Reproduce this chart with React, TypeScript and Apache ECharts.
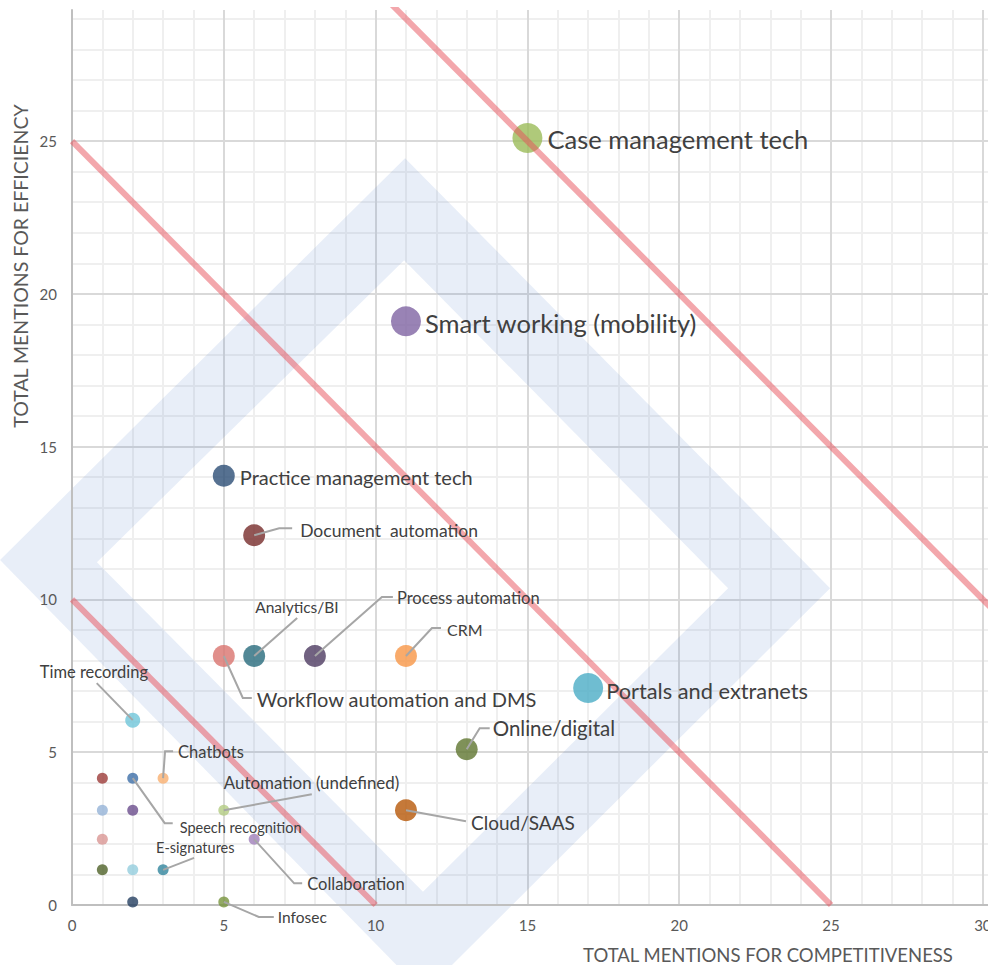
import React, { useEffect, useRef } from "react";
import * as echarts from "echarts";

// ---- data ----
const pointNames = [
  "Case management tech",
  "Smart working (mobility)",
  "Portals and extranets",
  "Practice management tech",
  "Document  automation",
  "Workflow automation and DMS",
  "Analytics/BI",
  "Process automation",
  "CRM",
  "Time recording",
  "Online/digital",
  "Cloud/SAAS",
  "Chatbots",
  "Automation (undefined)",
  "Speech recognition",
  "E-signatures",
  "Collaboration",
  "Infosec",
  "",
  "",
  "",
  "",
  "",
  "",
  "",
];
const competitiveness = [15, 11, 17, 5, 6, 5, 6, 8, 11, 2, 13, 11, 3, 5, 2, 3, 6, 5, 1, 1, 2, 1, 1, 2, 2];
const efficiency = [25.1, 19.1, 7.1, 14.05, 12.1, 8.15, 8.15, 8.15, 8.15, 6.05, 5.1, 3.1, 4.15, 3.1, 4.15, 1.15, 2.15, 0.1, 4.15, 3.1, 3.1, 2.15, 1.15, 1.15, 0.1];
const diagonalSums = [10, 25, 40];
const xTicks = [0, 5, 10, 15, 20, 25, 30];
const yTicks = [0, 5, 10, 15, 20, 25];

// ---- styles / layout (not data) ----
const markerSizes = [30, 30, 30, 22, 22, 22, 22, 22, 22, 15, 22, 22, 11, 11, 11, 11, 11, 11, 11, 11, 11, 11, 11, 11, 11];
const markerColors = [
  "#9BBB59", "#8064A2", "#4BACC6", "#2C4D75", "#772C2A", "#D9736E", "#276A7C", "#4D3B62", "#F79646",
  "#6FC5DA", "#5F7530", "#B65708", "#F9AF6F", "#B3CC82", "#3C6EA8", "#31859C", "#A080BA", "#77933C",
  "#9C3B38", "#95B3D7", "#6A4C8C", "#D99694", "#4F6228", "#93CDDD", "#243F60",
];
type LabelLayout = { dx: number; dy: number; fs: number; leader?: number[][] };
const labelLayouts: LabelLayout[] = [
  { dx: 20, dy: 1, fs: 25.5 },
  { dx: 19, dy: 2, fs: 25.5 },
  { dx: 18, dy: 2, fs: 21.8 },
  { dx: 16, dy: 1, fs: 20 },
  { dx: 46, dy: -5, fs: 17.5, leader: [[0, 0], [25, -7], [38, -7]] },
  { dx: 33, dy: 43, fs: 20, leader: [[0, 0], [19, 42], [28, 42]] },
  { dx: 1, dy: -49, fs: 15.5, leader: [[0, 0], [43, -38]] },
  { dx: 82, dy: -58, fs: 16.5, leader: [[0, 0], [67, -59], [78, -59]] },
  { dx: 41, dy: -26, fs: 16, leader: [[0, 0], [26, -28], [35, -28]] },
  { dx: -93, dy: -48, fs: 16.5, leader: [[0, 0], [-36, -37]] },
  { dx: 26, dy: -21, fs: 20.5, leader: [[0, 0], [13, -21], [23, -21]] },
  { dx: 65, dy: 12, fs: 19, leader: [[0, 0], [60, 11]] },
  { dx: 15, dy: -26, fs: 16.5, leader: [[0, 0], [2, -27], [10, -27]] },
  { dx: 0, dy: -28, fs: 16.9, leader: [[0, 0], [88, -16]] },
  { dx: 47, dy: 49, fs: 14.5, leader: [[0, 0], [32, 45], [40, 45]] },
  { dx: -7, dy: -22, fs: 14.5, leader: [[0, 0], [31, -12]] },
  { dx: 53, dy: 45, fs: 16.5, leader: [[0, 0], [40, 44], [48, 44]] },
  { dx: 54, dy: 15, fs: 15.5, leader: [[0, 0], [35, 15], [50, 15]] },
];
// background diamond band (decoration), in axis units
const diamondOuter = [[-2.37, 11.29], [10.97, 24.44], [24.97, 10.37], [11.59, -2.88]];
const diamondInner = [[0.82, 11.22], [11.56, 0.43], [21.61, 10.37], [10.94, 21.1]];

const X_MAX = 30.17;
const Y_MAX = 29.29;
const FONT = "Lato, 'Open Sans', sans-serif";

export default function App() {
  const ref = useRef<HTMLDivElement>(null);
  useEffect(() => {
    if (!ref.current) return;
    const chart = echarts.init(ref.current, undefined, { renderer: "svg" });

    const scatterData = pointNames.map((n, i) => ({
      name: n,
      value: [competitiveness[i], efficiency[i]],
      symbolSize: markerSizes[i],
      itemStyle: { color: markerColors[i] },
    }));
    const labelData = pointNames
      .map((n, i) => [competitiveness[i], efficiency[i], i])
      .filter((d) => pointNames[d[2] as number] !== "");

    const majorAxis = (isX: boolean) => ({
      type: "value",
      position: isX ? "bottom" : "left",
      min: 0,
      max: isX ? X_MAX : Y_MAX,
      interval: 5,
      z: 1,
      axisLine: { show: true, onZero: false, lineStyle: { color: "#BFBFBF", width: 2 } },
      axisTick: { show: false },
      axisLabel: {
        color: "#595959",
        fontFamily: FONT,
        fontSize: 15,
        margin: isX ? 12 : 15,
        showMaxLabel: true,
        formatter: (v: number) => ((isX ? xTicks : yTicks).indexOf(v) >= 0 ? String(v) : ""),
      },
      splitLine: { show: true, showMaxLine: false, lineStyle: { color: "#D9D9D9", width: 2 } },
    });
    const minorAxis = (isX: boolean) => ({
      type: "value",
      position: isX ? "bottom" : "left",
      min: 0,
      max: isX ? X_MAX : Y_MAX,
      interval: 1,
      z: 0,
      axisLine: { show: false },
      axisTick: { show: false },
      axisLabel: { show: false },
      splitLine: { show: true, showMaxLine: false, lineStyle: { color: "#EFEFEF", width: 2 } },
    });

    const option: any = {
      animation: false,
      backgroundColor: "#ffffff",
      grid: { left: 72, right: 0, top: 10, bottom: 60, containLabel: false, outerBoundsMode: "none" },
      xAxis: [minorAxis(true), majorAxis(true)],
      yAxis: [minorAxis(false), majorAxis(false)],
      graphic: [
        {
          type: "text",
          x: 20,
          y: 266,
          rotation: Math.PI / 2,
          style: {
            text: "TOTAL MENTIONS FOR EFFICIENCY",
            fill: "#595959",
            font: `19.5px ${FONT}`,
            align: "center",
            verticalAlign: "middle",
          },
        },
        {
          type: "text",
          x: 768,
          y: 955,
          style: {
            text: "TOTAL MENTIONS FOR COMPETITIVENESS",
            fill: "#595959",
            font: `18.5px ${FONT}`,
            align: "center",
            verticalAlign: "middle",
          },
        },
      ],
      series: [
        {
          type: "custom",
          xAxisIndex: 1,
          yAxisIndex: 1,
          clip: false,
          silent: true,
          z: 1,
          data: [[0, 0]],
          renderItem: (_p: any, api: any) => {
            const pts = [
              ...diamondOuter.map((d) => api.coord(d)),
              api.coord(diamondOuter[0]),
              ...diamondInner.map((d) => api.coord(d)),
              api.coord(diamondInner[0]),
            ];
            return {
              type: "polygon",
              shape: { points: pts },
              style: { fill: "rgba(68,114,196,0.12)", stroke: "none" },
            };
          },
        },
        {
          type: "scatter",
          xAxisIndex: 1,
          yAxisIndex: 1,
          z: 3,
          symbol: "circle",
          data: scatterData,
        },
        ...diagonalSums.map((t) => ({
          type: "line",
          xAxisIndex: 1,
          yAxisIndex: 1,
          z: 4,
          symbol: "none",
          silent: true,
          clip: true,
          lineStyle: { color: "rgba(232,80,90,0.5)", width: 6 },
          data: [[0, t], [t, 0]],
        })),
        {
          type: "custom",
          xAxisIndex: 1,
          yAxisIndex: 1,
          clip: false,
          silent: true,
          z: 5,
          data: labelData,
          renderItem: (_p: any, api: any) => {
            const c = api.coord([api.value(0), api.value(1)]);
            const i = api.value(2) as number;
            const L = labelLayouts[i];
            const children: any[] = [];
            if (L.leader) {
              children.push({
                type: "polyline",
                shape: { points: L.leader.map((o) => [c[0] + o[0], c[1] + o[1]]) },
                style: { stroke: "#A6A6A6", lineWidth: 2, fill: "none" },
              });
            }
            children.push({
              type: "text",
              x: c[0] + L.dx,
              y: c[1] + L.dy,
              style: {
                text: pointNames[i],
                fill: "#404040",
                font: `${L.fs}px ${FONT}`,
                align: "left",
                verticalAlign: "middle",
              },
            });
            return { type: "group", children };
          },
        },
      ],
    };
    chart.setOption(option);
    return () => chart.dispose();
  }, []);
  return (
    <div
      ref={ref}
      style={{ position: "absolute", left: 0, top: 0, width: 988, height: 965, background: "#fff" }}
    />
  );
}
